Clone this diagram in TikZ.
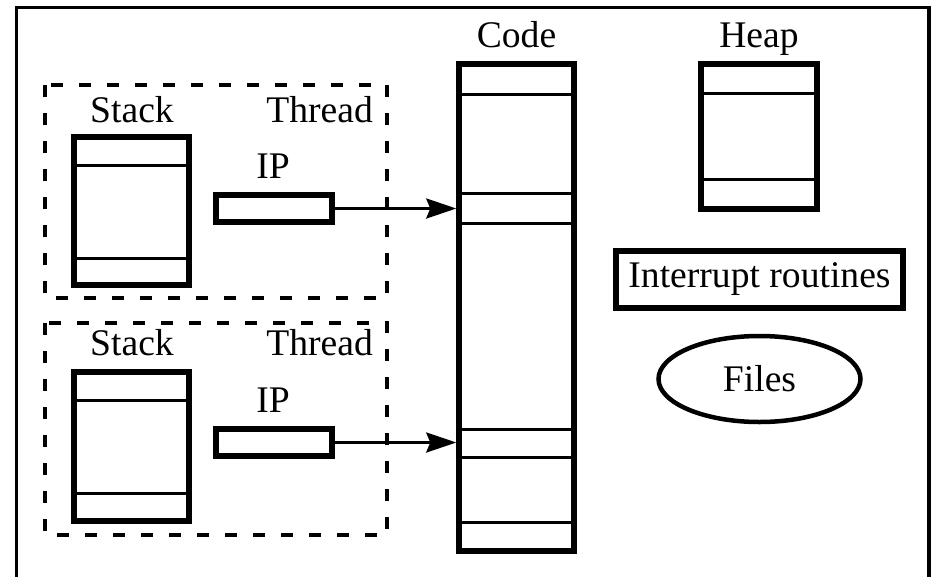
\documentclass[tikz,border=0pt]{standalone}
\usepackage{fontspec}
\setmainfont{Liberation Serif}
\usetikzlibrary{arrows.meta,shapes.geometric}
\begin{document}
\begin{tikzpicture}[x=1pt,y=-1pt,
  every node/.style={font=\fontsize{37.6}{44}\selectfont},
  label/.style={inner sep=0pt,anchor=base},
  mem/.style={draw,line width=5.5pt,rectangle,inner sep=0pt},
  divider/.style={line width=3pt},
  group/.style={line width=4.5pt,dash pattern=on 12pt off 16pt},
  ptr/.style={line width=3pt,-{Stealth[length=30pt,width=20pt,inset=4pt]}}]
\useasboundingbox (0,0) rectangle (931,576);

% outer frame (open at the bottom)
\draw[line width=3.5pt] (16.5,590) -- (16.5,7.5) -- (929,7.5) -- (929,590);

% thread groups
\draw[group] (45,85) rectangle (387,298);
\draw[group] (45,323) rectangle (387,535);

% code segment
\node[label] (codelbl) at (516.5,47) {Code};
\node[mem,minimum width=115pt,minimum height=487pt] (code) at (516.5,307.5) {};
\foreach \yy in {94,193,223,429,457,522}
  \draw[divider] (459,\yy) -- (574,\yy);

% heap
\node[label] (heaplbl) at (759,47) {Heap};
\node[mem,minimum width=116pt,minimum height=145pt] (heap) at (759,136.5) {};
\foreach \yy in {93,179}
  \draw[divider] (701,\yy) -- (817,\yy);

% interrupt routines and files
\node[mem,minimum width=287pt,minimum height=57pt] (irq) at (759.5,279.5) {Interrupt routines};
\node[draw,ellipse,line width=4.5pt,minimum width=202pt,minimum height=86pt,inner sep=0pt] (files) at (759.5,379) {Files};

% first thread
\node[label] (stk1lbl) at (132,122) {Stack};
\node[label,anchor=base east] (thr1lbl) at (373,122) {Thread};
\node[mem,minimum width=115pt,minimum height=148pt] (stack1) at (131.5,211) {};
\foreach \yy in {165,258}
  \draw[divider] (74,\yy) -- (189,\yy);
\node[label] (ip1lbl) at (273,178) {IP};
\node[mem,minimum width=116pt,minimum height=27pt] (ip1) at (274,208.5) {};
\draw[ptr] (ip1.east) -- (ip1.east -| code.west);

% second thread
\node[label] (stk2lbl) at (132,355) {Stack};
\node[label,anchor=base east] (thr2lbl) at (373,355) {Thread};
\node[mem,minimum width=115pt,minimum height=149pt] (stack2) at (131.5,446.5) {};
\foreach \yy in {400,493}
  \draw[divider] (74,\yy) -- (189,\yy);
\node[label] (ip2lbl) at (273,412) {IP};
\node[mem,minimum width=116pt,minimum height=27pt] (ip2) at (274,442.5) {};
\draw[ptr] (ip2.east) -- (ip2.east -| code.west);
\end{tikzpicture}
\end{document}
